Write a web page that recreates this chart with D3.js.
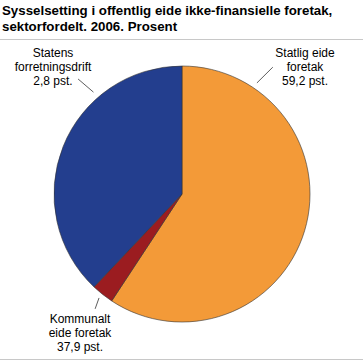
<!DOCTYPE html>
<html>
<head>
<meta charset="utf-8">
<script src="https://cdn.jsdelivr.net/npm/d3@7"></script>
<style>
  body { margin: 0; background: #fff; }
  text { font-family: "Liberation Sans", Arial, sans-serif; }
</style>
</head>
<body>
<svg width="363" height="363"></svg>
<script>
// Data
const sectors = ["Statlig eide foretak", "Kommunalt eide foretak", "Statens forretningsdrift"];
const shares = [59.2, 2.8, 37.9];
const colors = ["#f39a38", "#9b1c20", "#233e8e"];
// labels as printed in the figure
const labelLines = [
  ["Statlig eide", "foretak", "59,2 pst."],
  ["Kommunalt", "eide foretak", "37,9 pst."],
  ["Statens", "forretningsdrift", "2,8 pst."]
];

const svg = d3.select("svg"),
      cx = 182, cy = 194, radius = 128;

// title
const title = svg.append("text")
  .attr("x", 3)
  .attr("y", 15)
  .style("font-size", "13.3px")
  .style("font-weight", "bold")
  .attr("fill", "#000");
title.append("tspan").attr("x", 2).text("Sysselsetting i offentlig eide ikke-finansielle foretak,");
title.append("tspan").attr("x", 2).attr("dy", 15.5).text("sektorfordelt. 2006. Prosent");

svg.append("line")
  .attr("x1", 0).attr("x2", 363)
  .attr("y1", 39.5).attr("y2", 39.5)
  .attr("stroke", "#c8c8c8").attr("stroke-width", 1);
svg.append("line")
  .attr("x1", 0).attr("x2", 363)
  .attr("y1", 359.5).attr("y2", 359.5)
  .attr("stroke", "#c8c8c8").attr("stroke-width", 1);

const pie = d3.pie().sort(null).value(d => d);
const arc = d3.arc().innerRadius(0).outerRadius(radius);

const g = svg.append("g").attr("transform", `translate(${cx},${cy})`);

g.selectAll("path")
  .data(pie(shares))
  .enter().append("path")
  .attr("d", arc)
  .attr("fill", (d, i) => colors[i])
  .attr("stroke", "#333")
  .attr("stroke-width", 0.6);

// label placement: leader angle (deg from top), inner/outer radius, text centre
const labelLayout = [
  { a0: 34, r0: 134, a1: 35.6, r1: 156, tx: 305, ty: 53 },
  { a0: 218.6, r0: 133, a1: 217.1, r1: 144, tx: 80, ty: 319 },
  { a0: -41, r0: 135, a1: -42.1, r1: 155, tx: 53, ty: 53 }
];

const polar = (a, r) => [Math.sin(a * Math.PI / 180) * r, -Math.cos(a * Math.PI / 180) * r];

labelLayout.forEach((l, i) => {
  const p0 = polar(l.a0, l.r0), p1 = polar(l.a1, l.r1);
  g.append("line")
    .attr("x1", p0[0]).attr("y1", p0[1])
    .attr("x2", p1[0]).attr("y2", p1[1])
    .attr("stroke", "#333").attr("stroke-width", 0.8);

  const t = svg.append("text")
    .attr("text-anchor", "middle")
    .style("font-size", "12px")
    .attr("fill", "#000");
  labelLines[i].forEach((s, j) => {
    t.append("tspan")
      .attr("x", l.tx)
      .attr("y", l.ty + j * 13.8 + 4)
      .text(s);
  });
});
</script>
</body>
</html>
